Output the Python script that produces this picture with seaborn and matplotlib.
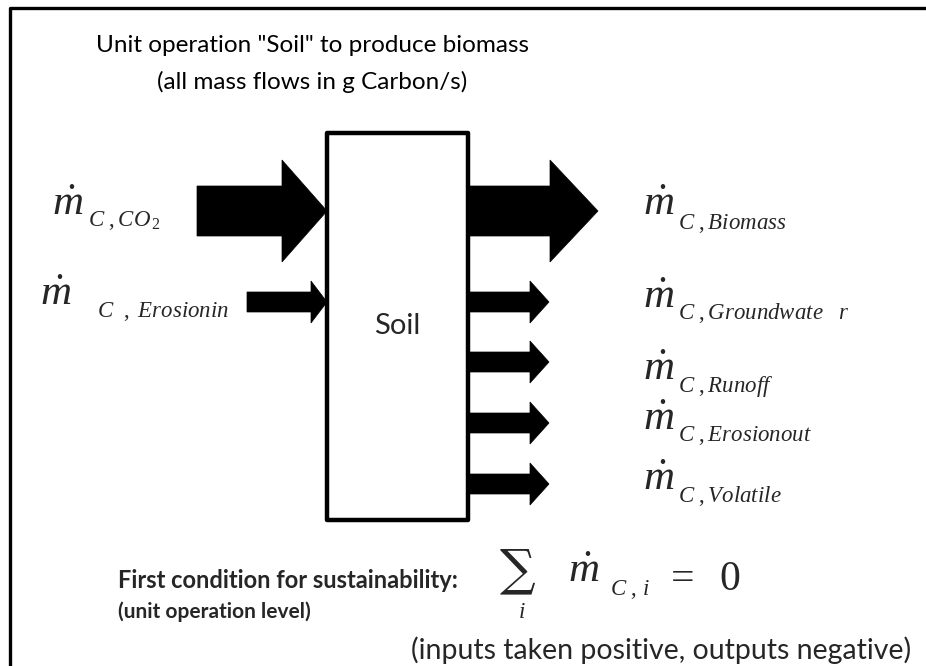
import matplotlib
matplotlib.use("Agg")
import matplotlib.pyplot as plt
from matplotlib.patches import Polygon, Rectangle
import seaborn as sns

# ---------------- data ----------------
title_lines = ['Unit operation "Soil" to produce biomass', '(all mass flows in g Carbon/s)']
unit_name = "Soil"
in_flows = [r"C\ ,CO_{\,2}", r"C\ \ ,\ Erosionin"]
in_sizes = ["large", "small"]
out_flows = [r"C\ ,Biomass", r"C\ ,Groundwate\ \ \ r", r"C\ ,Runoff", r"C\ ,Erosionout", r"C\ ,Volatile"]
out_sizes = ["large", "small", "small", "small", "small"]
condition_text = ["First condition for sustainability:", "(unit operation level)"]
sign_note = "(inputs taken positive, outputs negative)"

# ---------------- style ----------------
sns.set_theme(style="white")
plt.rcParams["font.family"] = ["Lato", "DejaVu Sans"]
plt.rcParams["mathtext.fontset"] = "custom"
plt.rcParams["mathtext.rm"] = "Liberation Serif"
plt.rcParams["mathtext.it"] = "Liberation Serif:italic"
plt.rcParams["mathtext.bf"] = "Liberation Serif:bold"

W, H = 926, 666
fig = plt.figure(figsize=(W / 100, H / 100), dpi=100)
ax = fig.add_axes([0, 0, 1, 1])
ax.set_xlim(0, W)
ax.set_ylim(H, 0)
ax.axis("off")

# frame (only left & top visible)
ax.plot([9.5, 9.5, W + 5], [H + 5, 7.5, 7.5], color="black", lw=2.4, solid_capstyle="butt")

# titles
ax.text(312, 45, title_lines[0], ha="center", va="center", fontsize=17.5, color="black")
ax.text(312, 82, title_lines[1], ha="center", va="center", fontsize=17.5, color="black")

# unit box
box_l, box_r, box_t, box_b = 327, 468, 133, 520
ax.add_patch(Rectangle((box_l, box_t), box_r - box_l, box_b - box_t, fill=False,
                       ec="black", lw=3.2, joinstyle="round"))
ax.text((box_l + box_r) / 2, 326, unit_name, ha="center", va="center", fontsize=21)

shape = {"large": dict(shaft=25, head=51), "small": dict(shaft=10, head=21)}


def arrow(x0, xh, xt, yc, size):
    s = shape[size]
    pts = [(x0, yc - s["shaft"]), (xh, yc - s["shaft"]), (xh, yc - s["head"]), (xt, yc),
           (xh, yc + s["head"]), (xh, yc + s["shaft"]), (x0, yc + s["shaft"])]
    ax.add_patch(Polygon(pts, closed=True, fc="black", ec="black", lw=0.5))


M_SIZE = 31
SUB_SIZE = 16.5

# inputs
in_y = [211, 302]
in_geom = {"large": (197, 282), "small": (247, 311)}
in_label_x = [52, 40]
in_sub_x = [88, 97]
in_m_base = [215, 305]
in_sub_base = [226, 317]
for lab, size, yc, lx, sx, mb, sb in zip(in_flows, in_sizes, in_y, in_label_x, in_sub_x, in_m_base, in_sub_base):
    x0, xh = in_geom[size]
    arrow(x0, xh, box_l, yc, size)
    ax.text(lx, mb, r"$\dot{m}$", fontsize=M_SIZE, va="baseline", ha="left")
    ax.text(sx, sb, "$" + lab + "$", fontsize=SUB_SIZE, va="baseline", ha="left")

# outputs
out_y = [211, 302, 362, 423, 484]
out_geom = {"large": (550, 598), "small": (530, 549)}
out_m_base = [215, 308, 380, 430, 490]
out_sub_base = [229, 319, 392, 441, 502]
for lab, size, yc, mb, sb in zip(out_flows, out_sizes, out_y, out_m_base, out_sub_base):
    xh, xt = out_geom[size]
    arrow(box_r, xh, xt, yc, size)
    ax.text(643, mb, r"$\dot{m}$", fontsize=M_SIZE, va="baseline", ha="left")
    ax.text(678, sb, "$" + lab + "$", fontsize=SUB_SIZE, va="baseline", ha="left")

# condition
ax.text(118, 580, condition_text[0], fontsize=17, fontweight="bold", va="center", ha="left")
ax.text(118, 612, condition_text[1], fontsize=15, fontweight="bold", va="center", ha="left")
ax.text(517, 571, "\u2211", fontsize=36, family="DejaVu Serif", va="center", ha="center")
ax.text(522, 618, "$i$", fontsize=SUB_SIZE, va="baseline", ha="center")
ax.text(568, 582, r"$\dot{m}$", fontsize=M_SIZE, va="baseline", ha="left")
ax.text(610, 595, r"$C\ ,\,i$", fontsize=SUB_SIZE, va="baseline", ha="left")
ax.text(664, 590, r"$=\ \ 0$", fontsize=30, va="baseline", ha="left")
ax.text(911, 650, sign_note, fontsize=20.5, va="center", ha="right")

fig.savefig("out.png", dpi=100)
